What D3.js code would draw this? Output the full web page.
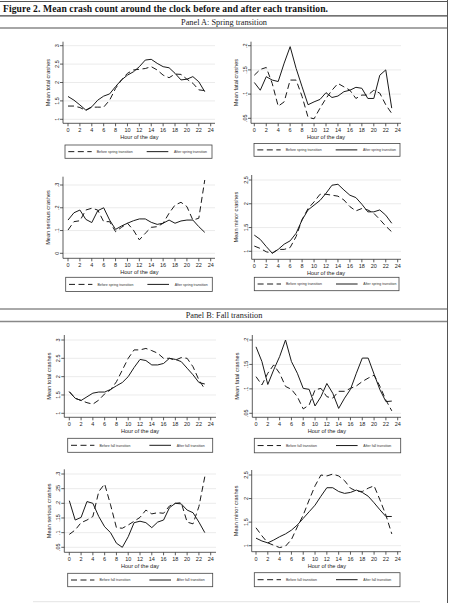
<!DOCTYPE html>
<html>
<head>
<meta charset="utf-8">
<script src="https://cdn.jsdelivr.net/npm/d3@7"></script>
<style>
  body { margin: 0; background: #fff; }
  svg { display: block; }
</style>
</head>
<body>
<svg id="fig" width="449" height="603"></svg>
<script>
// ---- data ----
var hours = [0,1,2,3,4,5,6,7,8,9,10,11,12,13,14,15,16,17,18,19,20,21,22,23];
var xTicks = [0,2,4,6,8,10,12,14,16,18,20,22,24];

var totalTicks = [1,1.5,2,2.5,3];
var totalTickLabels = ["1","1.5","2","2.5","3"];
var fatalTicks = [0.05,0.1,0.15,0.2];
var fatalTickLabels = [".05",".1",".15",".2"];
var seriousTicksA = [0,0.1,0.2,0.3];
var seriousTickLabelsA = ["0",".1",".2",".3"];
var seriousTicksB = [0.05,0.1,0.15,0.2,0.25,0.3];
var seriousTickLabelsB = [".05",".1",".15",".2",".25",".3"];
var minorTicks = [1,1.5,2,2.5];
var minorTickLabels = ["1","1.5","2","2.5"];

var springLegend = ["Before spring transition", "After spring transition"];
var fallLegend = ["Before fall transition", "After fall transition"];

// Panel A: spring
var springTotalBefore = [1.36,1.36,1.32,1.24,1.33,1.33,1.33,1.52,1.84,2.07,2.25,2.34,2.36,2.38,2.43,2.34,2.2,2.13,2.23,2.22,2.09,1.98,1.8,1.78];
var springTotalAfter  = [1.62,1.52,1.39,1.25,1.34,1.52,1.63,1.69,1.89,2.07,2.2,2.29,2.43,2.61,2.63,2.52,2.43,2.4,2.25,2.07,2.09,2.16,2.02,1.75];
var springFatalBefore = [.139,.151,.155,.122,.075,.084,.129,.129,.095,.052,.049,.071,.091,.108,.122,.115,.108,.091,.098,.098,.108,.102,.078,.060];
var springFatalAfter  = [.124,.108,.136,.129,.126,.164,.198,.153,.115,.078,.084,.089,.103,.093,.096,.105,.108,.114,.112,.091,.091,.139,.150,.071];
var springSeriousBefore = [.102,.139,.143,.19,.198,.19,.139,.139,.095,.114,.132,.102,.059,.088,.114,.117,.132,.176,.212,.224,.205,.146,.154,.322];
var springSeriousAfter  = [.146,.178,.19,.149,.135,.187,.2,.146,.105,.12,.132,.143,.151,.151,.136,.127,.132,.146,.132,.142,.146,.146,.117,.092];
var springMinorBefore = [1.11,1.06,.99,.96,1.04,1.04,1.08,1.31,1.67,1.9,2.04,2.2,2.2,2.18,2.16,2.08,1.94,1.85,1.9,1.87,1.8,1.67,1.53,1.41];
var springMinorAfter  = [1.34,1.25,1.1,.96,1.04,1.15,1.22,1.38,1.66,1.87,1.97,2.07,2.22,2.39,2.41,2.29,2.18,2.13,1.99,1.83,1.83,1.87,1.76,1.59];

// Panel B: fall
var fallTotalBefore = [1.59,1.41,1.35,1.29,1.25,1.36,1.53,1.64,1.86,2.18,2.5,2.73,2.73,2.77,2.71,2.64,2.5,2.5,2.45,2.52,2.5,2.27,1.91,1.66];
var fallTotalAfter  = [1.59,1.41,1.35,1.45,1.55,1.58,1.58,1.65,1.75,1.84,2.0,2.25,2.47,2.44,2.32,2.32,2.36,2.5,2.47,2.41,2.23,2.05,1.84,1.8];
var fallFatalBefore = [.125,.108,.132,.149,.132,.105,.099,.084,.059,.067,.098,.101,.084,.081,.095,.095,.101,.106,.115,.122,.128,.105,.077,.055];
var fallFatalAfter  = [.186,.156,.109,.139,.166,.2,.156,.132,.101,.099,.065,.084,.111,.091,.06,.081,.099,.132,.163,.163,.13,.098,.074,.075];
var fallSeriousBefore = [.094,.109,.134,.143,.155,.24,.266,.195,.117,.115,.126,.139,.152,.177,.164,.168,.166,.191,.2,.202,.136,.13,.189,.291];
var fallSeriousAfter  = [.209,.143,.152,.206,.2,.155,.12,.1,.064,.05,.086,.134,.139,.134,.117,.136,.143,.185,.2,.198,.177,.168,.136,.1];
var fallMinorBefore = [1.38,1.21,1.06,1.01,.96,.99,1.13,1.4,1.65,1.97,2.27,2.5,2.48,2.52,2.48,2.38,2.22,2.16,2.15,2.22,2.27,1.97,1.65,1.25];
var fallMinorAfter  = [1.16,1.1,1.06,1.12,1.19,1.25,1.33,1.44,1.58,1.72,1.86,2.05,2.23,2.23,2.15,2.11,2.13,2.18,2.13,2.05,1.91,1.76,1.62,1.62];

// ---- layout ----
var svg = d3.select("#fig");
var serif = "'Liberation Serif', 'DejaVu Serif', serif";
var sans = "'Liberation Sans', Arial, sans-serif";
var dash = "6,3.5";

// frame of the table
function hline(y, x1, x2, col, w) {
    svg.append("line").attr("x1", x1).attr("x2", x2).attr("y1", y).attr("y2", y)
        .attr("stroke", col).attr("stroke-width", w);
}
hline(1.5, 0, 448, "#555", 1);
hline(15.8, 0, 448, "#444", 1.2);
hline(28, 0, 448, "#888", 1.4);
hline(309, 0, 448, "#555", 1);
hline(321.5, 0, 448, "#888", 1.4);
hline(601.7, 33, 420, "#e4e4e4", 1);
svg.append("line").attr("x1", 447.5).attr("x2", 447.5).attr("y1", 0).attr("y2", 603)
    .attr("stroke", "#555").attr("stroke-width", 1);

svg.append("text").attr("x", 3).attr("y", 12.3)
    .attr("font-family", serif).attr("font-weight", "bold").attr("font-size", 9.6)
    .attr("fill", "#111")
    .attr("textLength", 325).attr("lengthAdjust", "spacing")
    .text("Figure 2. Mean crash count around the clock before and after each transition.");
svg.append("text").attr("x", 224).attr("y", 25.3).attr("text-anchor", "middle")
    .attr("font-family", serif).attr("font-size", 8.3).attr("fill", "#222")
    .text("Panel A: Spring transition");
svg.append("text").attr("x", 224).attr("y", 318).attr("text-anchor", "middle")
    .attr("font-family", serif).attr("font-size", 8.3).attr("fill", "#222")
    .text("Panel B: Fall transition");

// each small graph: axis position, pixel of first/last y tick, pixel of x=0 / x=24, legend box
var panels = [
  {ax: 63, right: 215, top: 41.7, bottom: 123.3, yp: [119.3, 45.7], xp: [68, 210.7],
   ticks: totalTicks, labels: totalTickLabels, title: "Mean total crashes",
   before: springTotalBefore, after: springTotalAfter, legend: springLegend,
   lg: [65, 145, 147, 13.3]},
  {ax: 251, right: 401, top: 41.7, bottom: 123.3, yp: [118.3, 45.7], xp: [254.3, 397.7],
   ticks: fatalTicks, labels: fatalTickLabels, title: "Mean fatal crashes",
   before: springFatalBefore, after: springFatalAfter, legend: springLegend,
   lg: [254, 143.5, 146, 12.8]},
  {ax: 63, right: 215, top: 176.7, bottom: 258.3, yp: [253.3, 185], xp: [68, 210.7],
   ticks: seriousTicksA, labels: seriousTickLabelsA, title: "Mean serious crashes",
   before: springSeriousBefore, after: springSeriousAfter, legend: springLegend,
   lg: [65.7, 277.3, 146.6, 14.2]},
  {ax: 251.7, right: 401, top: 175, bottom: 259.3, yp: [251.3, 180], xp: [254.3, 397.7],
   ticks: minorTicks, labels: minorTickLabels, title: "Mean minor crashes",
   before: springMinorBefore, after: springMinorAfter, legend: springLegend,
   lg: [254.3, 277.3, 144.7, 13.4]},
  {ax: 64.3, right: 216, top: 335, bottom: 417.3, yp: [413.3, 340], xp: [69.3, 210.7],
   ticks: totalTicks, labels: totalTickLabels, title: "Mean total crashes",
   before: fallTotalBefore, after: fallTotalAfter, legend: fallLegend,
   lg: [67.7, 438.3, 145, 14]},
  {ax: 252.3, right: 401, top: 335, bottom: 417.3, yp: [413.3, 340], xp: [256, 397.7],
   ticks: fatalTicks, labels: fatalTickLabels, title: "Mean fatal crashes",
   before: fallFatalBefore, after: fallFatalAfter, legend: fallLegend,
   lg: [254.3, 438.3, 146.4, 14.5]},
  {ax: 64.3, right: 216, top: 469.3, bottom: 552.3, yp: [547.3, 474], xp: [69.3, 210.7],
   ticks: seriousTicksB, labels: seriousTickLabelsB, title: "Mean serious crashes",
   before: fallSeriousBefore, after: fallSeriousAfter, legend: fallLegend,
   lg: [67.7, 573.3, 145, 13.4]},
  {ax: 251.7, right: 401, top: 470, bottom: 551.7, yp: [545.7, 475], xp: [256, 397.7],
   ticks: minorTicks, labels: minorTickLabels, title: "Mean minor crashes",
   before: fallMinorBefore, after: fallMinorAfter, legend: fallLegend,
   lg: [254.3, 572.7, 145.7, 14]}
];

panels.forEach(function (p) {
    var g = svg.append("g");
    var x = d3.scaleLinear().domain([0, 24]).range(p.xp);
    var y = d3.scaleLinear().domain([p.ticks[0], p.ticks[p.ticks.length - 1]]).range(p.yp);

    // gridlines
    g.selectAll("line.grid").data(p.ticks).join("line").attr("class", "grid")
        .attr("x1", p.ax).attr("x2", p.right)
        .attr("y1", d => y(d)).attr("y2", d => y(d))
        .attr("stroke", "#e6e6e6").attr("stroke-width", 0.8);

    // y axis
    g.append("line").attr("x1", p.ax).attr("x2", p.ax).attr("y1", p.top).attr("y2", p.bottom)
        .attr("stroke", "#333").attr("stroke-width", 0.8);
    g.selectAll("line.ytick").data(p.ticks).join("line").attr("class", "ytick")
        .attr("x1", p.ax - 3).attr("x2", p.ax)
        .attr("y1", d => y(d)).attr("y2", d => y(d))
        .attr("stroke", "#333").attr("stroke-width", 0.8);
    g.selectAll("text.ylab").data(p.ticks).join("text").attr("class", "ylab")
        .attr("transform", d => "translate(" + (p.ax - 4) + "," + y(d) + ") rotate(-90)")
        .attr("text-anchor", "middle")
        .attr("font-family", sans).attr("font-size", 5.5).attr("fill", "#222")
        .text((d, i) => p.labels[i]);
    g.append("text")
        .attr("transform", "translate(" + (p.ax - 13.3) + "," + ((p.top + p.bottom) / 2) + ") rotate(-90)")
        .attr("text-anchor", "middle")
        .attr("font-family", sans).attr("font-size", 5.6).attr("fill", "#222")
        .text(p.title);

    // x axis
    g.append("line").attr("x1", p.ax).attr("x2", p.right).attr("y1", p.bottom).attr("y2", p.bottom)
        .attr("stroke", "#333").attr("stroke-width", 0.8);
    g.selectAll("line.xtick").data(xTicks).join("line").attr("class", "xtick")
        .attr("x1", d => x(d)).attr("x2", d => x(d))
        .attr("y1", p.bottom).attr("y2", p.bottom + 3)
        .attr("stroke", "#333").attr("stroke-width", 0.8);
    g.selectAll("text.xlab").data(xTicks).join("text").attr("class", "xlab")
        .attr("x", d => x(d)).attr("y", p.bottom + 9)
        .attr("text-anchor", "middle")
        .attr("font-family", sans).attr("font-size", 5.5).attr("fill", "#222")
        .text(d => d);
    g.append("text").attr("x", (p.xp[0] + p.xp[1]) / 2).attr("y", p.bottom + 15.8)
        .attr("text-anchor", "middle")
        .attr("font-family", sans).attr("font-size", 5.6).attr("fill", "#222")
        .text("Hour of the day");

    // lines
    var line = d3.line().x((d, i) => x(hours[i])).y(d => y(d));
    g.append("path").datum(p.before).attr("d", line)
        .attr("fill", "none").attr("stroke", "#1a1a1a").attr("stroke-width", 1)
        .attr("stroke-dasharray", dash);
    g.append("path").datum(p.after).attr("d", line)
        .attr("fill", "none").attr("stroke", "#1a1a1a").attr("stroke-width", 1);

    // legend
    var lx = p.lg[0], ly = p.lg[1], lw = p.lg[2], lh = p.lg[3];
    var my = ly + lh / 2;
    g.append("rect").attr("x", lx).attr("y", ly).attr("width", lw).attr("height", lh)
        .attr("fill", "#fff").attr("stroke", "#444").attr("stroke-width", 0.8);
    g.append("line").attr("x1", lx + 3.3).attr("x2", lx + 26.7).attr("y1", my).attr("y2", my)
        .attr("stroke", "#1a1a1a").attr("stroke-width", 1).attr("stroke-dasharray", dash);
    g.append("line").attr("x1", lx + 81.7).attr("x2", lx + 103.3).attr("y1", my).attr("y2", my)
        .attr("stroke", "#1a1a1a").attr("stroke-width", 1);
    g.append("text").attr("x", lx + 31.7).attr("y", my + 1.2)
        .attr("font-family", sans).attr("font-size", 3.5).attr("fill", "#333")
        .text(p.legend[0]);
    g.append("text").attr("x", lx + 109).attr("y", my + 1.2)
        .attr("font-family", sans).attr("font-size", 3.5).attr("fill", "#333")
        .text(p.legend[1]);
});
</script>
</body>
</html>
